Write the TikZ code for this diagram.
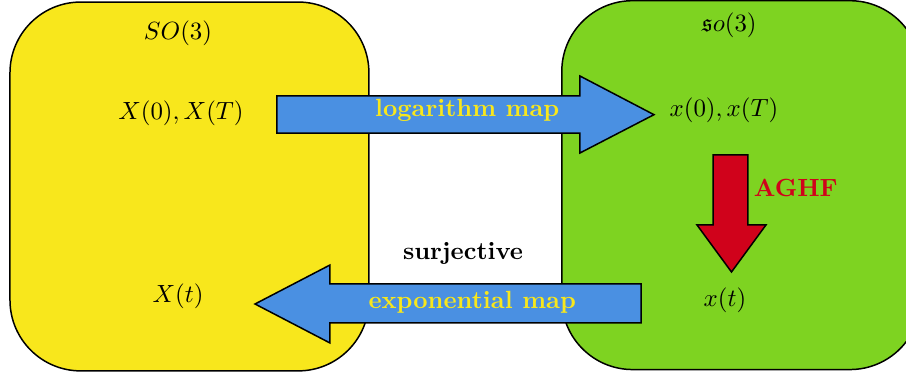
\documentclass[tikz,border=0pt]{standalone}
\usepackage{amssymb}
\usetikzlibrary{positioning}

\definecolor{groupyellow}{HTML}{F8E71C}
\definecolor{algebragreen}{HTML}{7ED321}
\definecolor{mapblue}{HTML}{4A90E2}
\definecolor{flowred}{HTML}{D0021B}

\begin{document}
\begin{tikzpicture}[semithick,
                    space node/.style={rectangle, rounded corners=1cm, draw,
                                       minimum width=5.07cm, minimum height=5.21cm},
                    block arrow/.style={draw, fill=mapblue},
                    map label/.style={text=groupyellow, font=\bfseries}]
    \useasboundingbox (0,0) rectangle (12.797,5.325);

    % the group and its Lie algebra
    \node[space node, fill=groupyellow]  (group)   at (2.676,2.691) {};
    \node[space node, fill=algebragreen] (algebra) at (10.47,2.71)  {};

    \node (SO3)  at (2.514,4.859) {$SO(3)$};
    \node (Xends) at (2.556,3.729) {$X(0), X(T)$};
    \node (Xt)   at (2.514,1.144) {$X(t)$};

    \node (so3)  at (10.30,4.972) {$\mathfrak{s}o(3)$};
    \node (xends) at (10.226,3.771) {$x(0), x(T)$};
    \node (xt)   at (10.24,1.088) {$x(t)$};

    % log / exp arrows
    \filldraw[block arrow] (3.912,3.969) -- (8.192,3.969) -- (8.192,4.251)
        -- (9.237,3.705) -- (8.192,3.164) -- (8.192,3.446) -- (3.912,3.446) -- cycle;
    \filldraw[block arrow] (9.054,1.314) -- (4.661,1.314) -- (4.661,1.582)
        -- (3.602,1.031) -- (4.661,0.480) -- (4.661,0.763) -- (9.054,0.763) -- cycle;

    \node[map label] (log) at (6.60,3.771) {logarithm map};
    \node[map label] (exp) at (6.67,1.059) {exponential map};
    \node[font=\bfseries] (surj) at (6.54,1.751) {surjective};

    % AGHF step inside the algebra
    \filldraw[draw, fill=flowred] (10.071,3.136) -- (10.565,3.136) -- (10.565,2.147)
        -- (10.819,2.147) -- (10.332,1.483) -- (9.845,2.147) -- (10.071,2.147) -- cycle;
    \node[text=flowred, font=\bfseries] (aghf) at (11.24,2.669) {AGHF};
\end{tikzpicture}
\end{document}
